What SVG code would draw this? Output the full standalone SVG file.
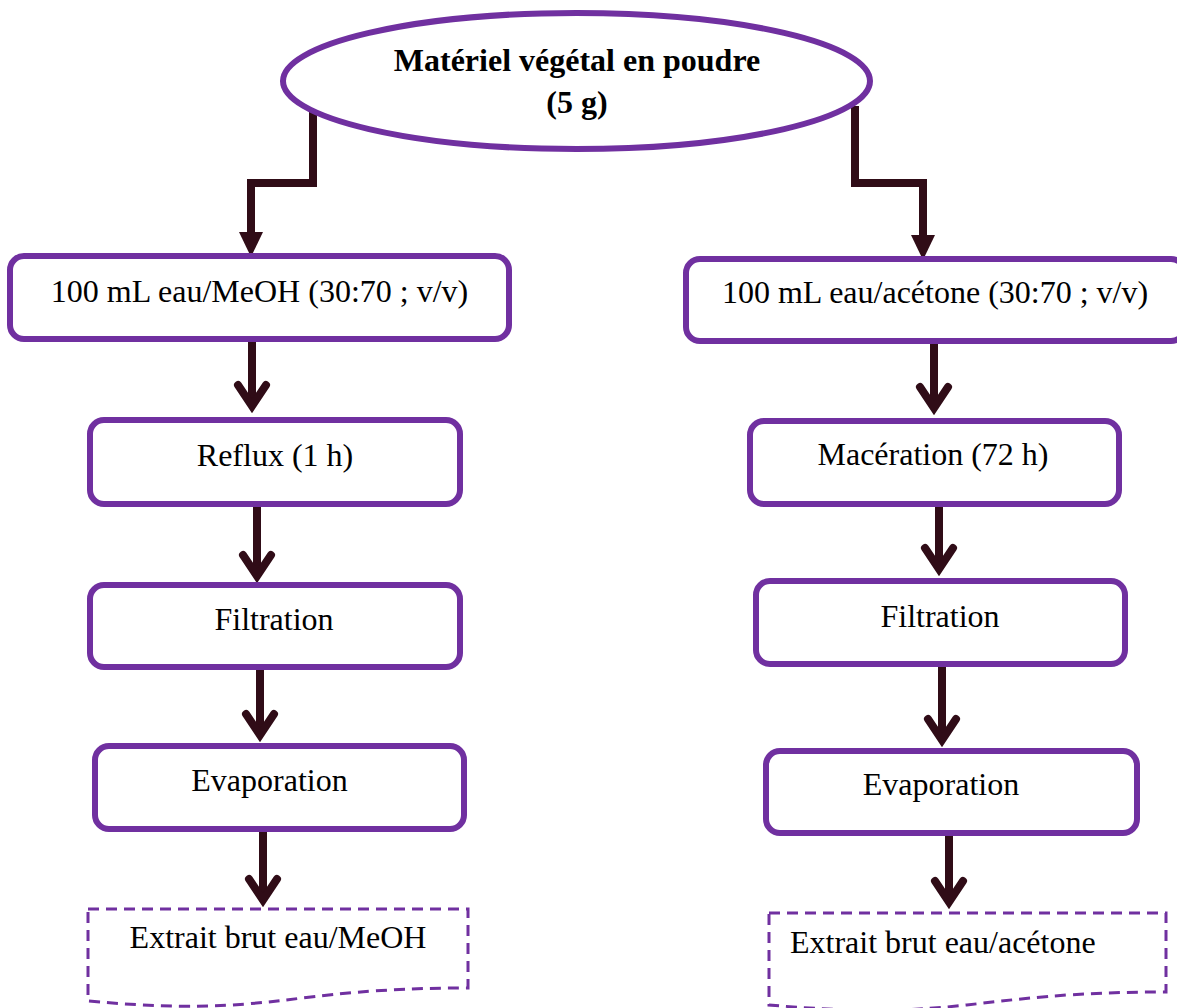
<svg xmlns="http://www.w3.org/2000/svg" width="1177" height="1008" viewBox="0 0 1177 1008">
<style>
.box{fill:#ffffff;stroke:#7030A0;stroke-width:6}
.doc{fill:#ffffff;stroke:#7030A0;stroke-width:3;stroke-dasharray:11 7}
.t{font-family:"Liberation Serif","Times New Roman",serif;font-size:32px;fill:#000000}
.tb{font-family:"Liberation Serif","Times New Roman",serif;font-size:32px;font-weight:bold;fill:#000000}
.elbow{fill:none;stroke:#300C17;stroke-width:8;stroke-linejoin:miter}
.arr{fill:none;stroke:#300C17;stroke-width:8}
</style>
<defs>
<marker id="tri" markerUnits="userSpaceOnUse" orient="auto" refX="0" refY="0" markerWidth="40" markerHeight="40" overflow="visible">
<path d="M0,-12 L25,0 L0,12 Z" fill="#300C17"/>
</marker>
<marker id="chev" markerUnits="userSpaceOnUse" orient="auto" refX="0" refY="0" markerWidth="40" markerHeight="40" overflow="visible">
<path d="M-21,-14 L0,0 L-21,14" fill="none" stroke="#300C17" stroke-width="8" stroke-linecap="round" stroke-linejoin="miter"/>
</marker>
</defs>
<rect width="1177" height="1008" fill="#ffffff"/>
<g id="connectors">
<path class="elbow" d="M313,110 V183 H251 V232" marker-end="url(#tri)"/>
<path class="elbow" d="M855,106 V183 H923 V235" marker-end="url(#tri)"/>
<path class="arr" d="M252,342 V406" marker-end="url(#chev)"/>
<path class="arr" d="M257,507 V576" marker-end="url(#chev)"/>
<path class="arr" d="M260,670 V735" marker-end="url(#chev)"/>
<path class="arr" d="M263,832 V900" marker-end="url(#chev)"/>
<path class="arr" d="M934,344 V408" marker-end="url(#chev)"/>
<path class="arr" d="M939,507 V569" marker-end="url(#chev)"/>
<path class="arr" d="M942,667 V740" marker-end="url(#chev)"/>
<path class="arr" d="M949,836 V902" marker-end="url(#chev)"/>
</g>
<g id="start">
<ellipse cx="576.5" cy="81" rx="293.5" ry="68" fill="#ffffff" stroke="#7030A0" stroke-width="6"/>
<text class="tb" x="577" y="71" text-anchor="middle">Matériel végétal en poudre</text>
<text class="tb" x="577" y="113" text-anchor="middle">(5 g)</text>
</g>
<g id="l1"><rect class="box" x="10" y="256" width="499" height="83" rx="14"/><text class="t" x="259.5" y="302" text-anchor="middle">100 mL eau/MeOH (30:70 ; v/v)</text></g>
<g id="l2"><rect class="box" x="90" y="420" width="370" height="84" rx="14"/><text class="t" x="275" y="466" text-anchor="middle">Reflux (1 h)</text></g>
<g id="l3"><rect class="box" x="90" y="585" width="370" height="82" rx="14"/><text class="t" x="274" y="630" text-anchor="middle">Filtration</text></g>
<g id="l4"><rect class="box" x="95" y="746" width="369" height="83" rx="14"/><text class="t" x="269.5" y="791" text-anchor="middle">Evaporation</text></g>
<g id="l5"><path class="doc" d="M88,909 H468 V988 C278,988 278,1018 88,1001 Z"/><text class="t" x="278" y="948" text-anchor="middle">Extrait brut eau/MeOH</text></g>
<g id="r1"><rect class="box" x="686" y="259" width="499" height="82" rx="14"/><text class="t" x="935" y="303" text-anchor="middle">100 mL eau/acétone (30:70 ; v/v)</text></g>
<g id="r2"><rect class="box" x="750" y="421" width="369" height="83" rx="14"/><text class="t" x="933" y="465" text-anchor="middle">Macération (72 h)</text></g>
<g id="r3"><rect class="box" x="756" y="581" width="369" height="83" rx="14"/><text class="t" x="940" y="627" text-anchor="middle">Filtration</text></g>
<g id="r4"><rect class="box" x="766" y="751" width="371" height="82" rx="14"/><text class="t" x="941" y="795" text-anchor="middle">Evaporation</text></g>
<g id="r5"><path class="doc" d="M769,913 H1166 V992 C967.5,992 967.5,1022 769,1005 Z"/><text class="t" x="790" y="953">Extrait brut eau/acétone</text></g>
</svg>
